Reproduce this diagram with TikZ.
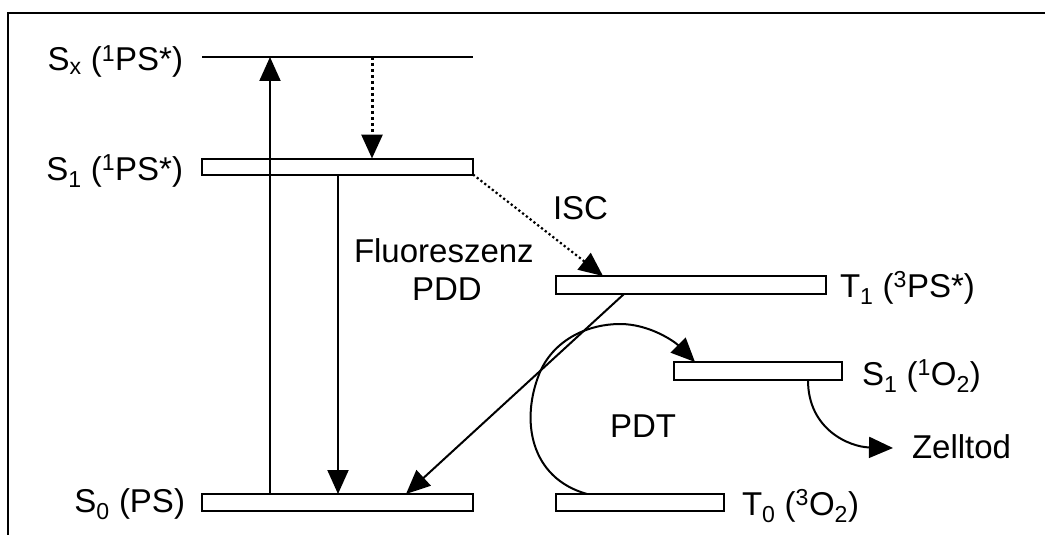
\documentclass[tikz,border=0pt]{standalone}
\usepackage{fontspec}
\setmainfont{Liberation Sans}
\usetikzlibrary{arrows.meta}
\begin{document}
\begin{tikzpicture}[x=1pt,y=-1pt,
  lvl/.style={draw, line width=2pt, rectangle, inner sep=0pt, outer sep=0pt},
  lbl/.style={inner sep=0pt, outer sep=0pt, font=\fontsize{33}{39}\selectfont},
  tip/.style={-{Triangle[length=24pt,width=21pt]}},
  arr/.style={line width=2pt, tip},
  dotsv/.style={line width=3pt, dash pattern=on 3pt off 3pt, tip},
  dotsd/.style={line width=2.2pt, dash pattern=on 2.2pt off 2.6pt, tip},
  frame/.style={line width=2.5pt}]
\useasboundingbox (0,0) rectangle (1045,535);
% frame
\draw[frame] (8,535) -- (8,13) -- (1045,13);
% levels
\coordinate (sxL) at (202,57);
\coordinate (sxR) at (473,57);
\draw[line width=2pt] (sxL) -- (sxR);
\node[lvl, minimum width=271pt, minimum height=16pt] (s1) at (337.5,166.5) {};
\node[lvl, minimum width=271pt, minimum height=17pt] (s0) at (337.5,502.5) {};
\node[lvl, minimum width=270pt, minimum height=18pt] (t1) at (691,285) {};
\node[lvl, minimum width=168pt, minimum height=18pt] (o1) at (758,371) {};
\node[lvl, minimum width=168pt, minimum height=17pt] (t0) at (640,502.5) {};
% labels
\node[lbl, anchor=base east] (lsx) at (183,71) {S\textsubscript{x} (\textsuperscript{1}PS*)};
\node[lbl, anchor=base east] (ls1) at (183,180) {S\textsubscript{1} (\textsuperscript{1}PS*)};
\node[lbl, anchor=base east] (ls0) at (185,512) {S\textsubscript{0} (PS)};
\node[lbl, anchor=base west] (lt1) at (840,297) {T\textsubscript{1} (\textsuperscript{3}PS*)};
\node[lbl, anchor=base west] (lo1) at (862,385) {S\textsubscript{1} (\textsuperscript{1}O\textsubscript{2})};
\node[lbl, anchor=base west] (lt0) at (742,515) {T\textsubscript{0} (\textsuperscript{3}O\textsubscript{2})};
\node[lbl, anchor=base west] (fl) at (354,262) {Fluoreszenz};
\node[lbl, anchor=base west] (pdd) at (412,300) {PDD};
\node[lbl, anchor=base west] (isc) at (553,219) {ISC};
\node[lbl, anchor=base west] (pdt) at (610,437) {PDT};
\node[lbl, anchor=base west] (zell) at (912,458) {Zelltod};
% helper x positions
\coordinate (ux) at (270,0);
\coordinate (dx) at (372,0);
\coordinate (fx) at (338,0);
\coordinate (iscx) at (603,0);
\coordinate (ax) at (624,0);
\coordinate (bx) at (406,0);
\coordinate (px) at (587,0);
\coordinate (qx) at (695,0);
\coordinate (zx) at (808,0);
\coordinate (ztip) at (893,448);
% arrows
\draw[arr] (s0.north -| ux) -- (sxL -| ux);
\draw[dotsv] (sxL -| dx) -- (s1.north -| dx);
\draw[arr] (s1.south -| fx) -- (s0.north -| fx);
\draw[dotsd] (s1.south east) -- (t1.north -| iscx);
\draw[arr] (t1.south -| ax) -- (s0.north -| bx);
\draw[arr] (t0.north -| px) .. controls (530,478) and (520,420) .. (540,372)
  .. controls (555,338) and (590,324) .. (620,324)
  .. controls (650,324) and (675,342) .. (o1.north -| qx);
\draw[arr] (o1.south -| zx) .. controls (808,430) and (850,447) .. (ztip);
\end{tikzpicture}
\end{document}
